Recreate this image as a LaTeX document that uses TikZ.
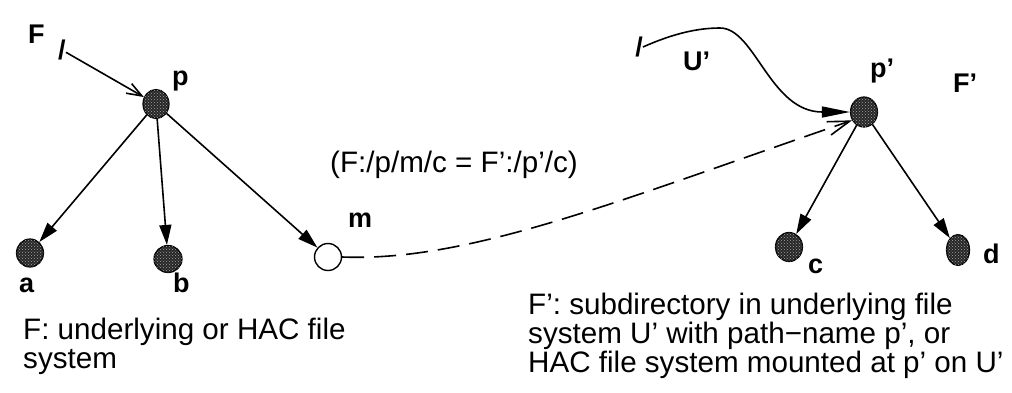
\documentclass[tikz,border=0pt]{standalone}
\usepackage{fontspec}
\setmainfont{Liberation Sans}
\usetikzlibrary{arrows.meta,patterns,shapes.geometric}

\begin{document}
\begin{tikzpicture}[
    x=1pt, y=-1pt,
    dir/.style={ellipse, draw, line width=1.2pt, fill=black!85,
        postaction={pattern=crosshatch dots, pattern color=white!65!black},
        minimum width=26pt, minimum height=29pt, inner sep=0pt},
    mnt/.style={circle, draw, line width=1.4pt, fill=white, minimum size=27pt, inner sep=0pt},
    lbl/.style={font=\fontsize{27}{27}\selectfont\bfseries, inner sep=0pt, anchor=base west},
    txt/.style={font=\fontsize{29.6}{29}\selectfont, inner sep=0pt, anchor=base west, align=left},
    link/.style={draw, line width=1.6pt, -{Triangle[length=20pt,width=12pt]}},
    root/.style={draw, line width=1.6pt}
]
\useasboundingbox (0,0) rectangle (1012,392);

% left tree F
\node[dir] (p) at (156,104) {};
\node[dir, minimum width=27pt, minimum height=28pt] (a) at (30,253) {};
\node[dir, minimum width=28pt, minimum height=27pt] (b) at (168,259) {};
\node[mnt] (m) at (328,257) {};
\node[lbl, anchor=center] (rootF) at (62,50) {/};
\node[lbl] (Flbl) at (28,43) {F};
\node[lbl] (plbl) at (172,85) {p};
\node[lbl] (albl) at (19,292) {a};
\node[lbl] (blbl) at (173,292) {b};
\node[lbl] (mlbl) at (348,227) {m};

% right tree F'
\node[dir, minimum width=27pt, minimum height=30pt] (pp) at (864,112) {};
\node[dir, minimum width=27pt, minimum height=29pt] (c) at (789,247) {};
\node[dir, minimum width=23pt, minimum height=31pt] (d) at (958,250) {};
\node[lbl, anchor=center] (rootU) at (639,47) {/};
\node[lbl] (Ulbl) at (683,70) {U’};
\node[lbl] (pplbl) at (870,77) {p’};
\node[lbl] (F2lbl) at (953,92) {F’};
\node[lbl] (clbl) at (808,273) {c};
\node[lbl] (dlbl) at (983,263) {d};

\node[txt] (eqn) at (330,172) {(F:/p/m/c = F’:/p’/c)};
\node[txt] (capF) at (23,368) {F: underlying or HAC file\\system};
\node[txt] (capFF) at (528,372) {F’: subdirectory in underlying file\\system U’ with path−name p’, or\\HAC file system mounted at p’ on U’};

\draw[root, -{Straight Barb[length=15pt,width=11pt]}] (rootF) -- (p);
\draw[link] (p) -- (a);
\draw[link] (p) -- (b);
\draw[link] (p) -- (m);
\draw[link] (pp) -- (c);
\draw[link] (pp) -- (d);

\draw[root, -{Triangle[length=28pt,width=11pt]}] (rootU.east)
    .. controls (670,35) and (695,28) .. (720,28)
    .. controls (755,28) and (770,112) .. (pp.west);
\draw[root, dash pattern=on 22pt off 10pt, -{Straight Barb[length=22pt,width=14pt]}]
    (m.east) .. controls (470,262) and (620,200) .. (pp.215);
\end{tikzpicture}
\end{document}
